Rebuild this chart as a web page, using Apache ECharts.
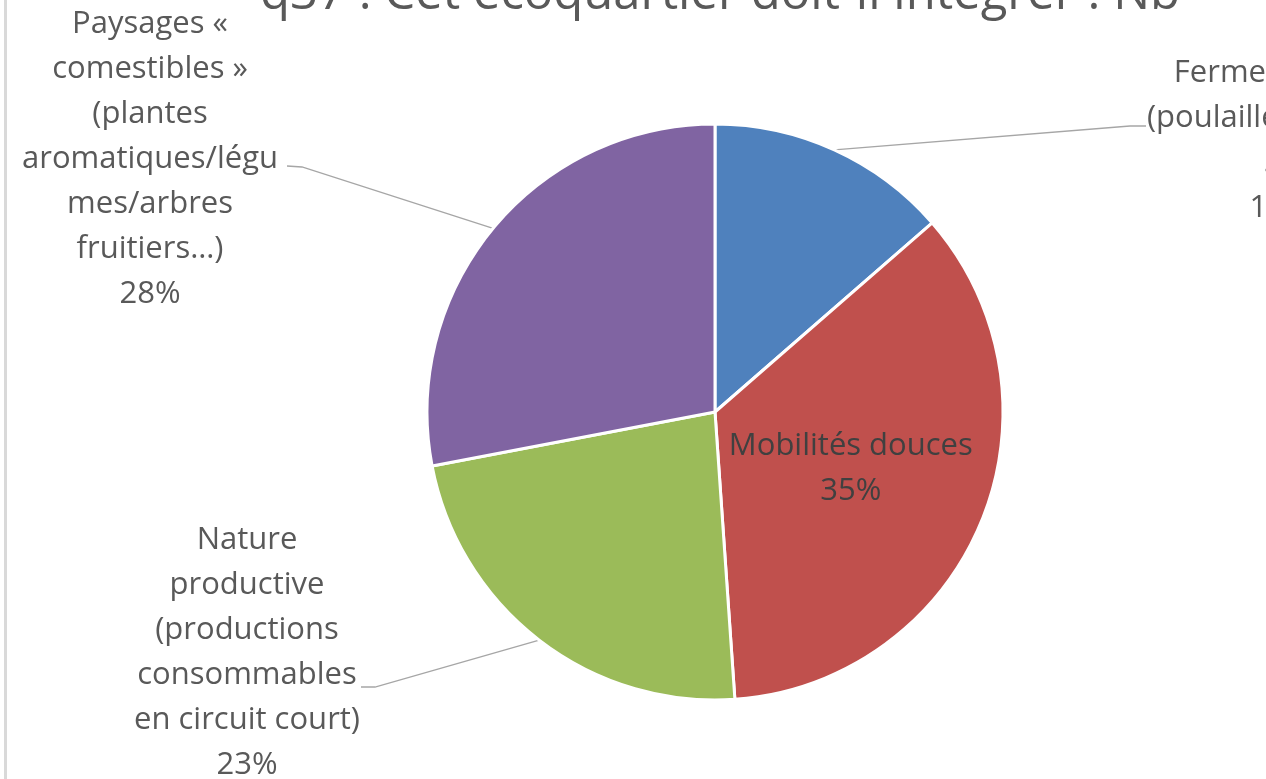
<!DOCTYPE html>
<html>
<head>
<meta charset="utf-8">
<script src="https://cdn.jsdelivr.net/npm/echarts@6/dist/echarts.min.js"></script>
<style>
html,body{margin:0;padding:0;background:#fff;}
#chart{width:1266px;height:779px;}
</style>
</head>
<body>
<div id="chart"></div>
<script>
// Data
var titleText = 'q37 : Cet écoquartier doit-il intégrer : Nb';
var categories = [
  'Ferme urbaine\n(poulailler, ruches,\n…)',
  'Mobilités douces',
  'Nature\nproductive\n(productions\nconsommables\nen circuit court)',
  'Paysages «\ncomestibles »\n(plantes\naromatiques/légu\nmes/arbres\nfruitiers…)'
];
var values = [13.6, 35.3, 23.1, 28.0];
var colors = ['#4F81BD', '#C0504D', '#9BBB59', '#8064A2'];

// Label placement (layout only)
var labelSpots = {
  0: {x: 1280, y: 141, knee: [1130, 126], end: [1146, 126]},
  2: {x: 247, y: 653, knee: [375, 687], end: [361, 687]},
  3: {x: 150, y: 159, knee: [302, 167], end: [287, 166]}
};

var FONT = '"Open Sans", "Noto Sans", sans-serif';

var chart = echarts.init(document.getElementById('chart'), null, {renderer: 'canvas'});

var total = values.reduce(function (a, b) { return a + b; }, 0);

var seriesData = categories.map(function (c, i) {
  var item = {name: c, value: values[i], itemStyle: {color: colors[i]}};
  if (i === 1) {
    item.label = {position: 'inside', color: '#404040'};
  }
  return item;
});

chart.setOption({
  animation: false,
  backgroundColor: '#ffffff',
  title: {
    text: titleText,
    left: 715,
    textAlign: 'center',
    top: -34,
    textStyle: {fontFamily: FONT, fontSize: 49, fontWeight: 'normal', color: '#595959'}
  },
  graphic: [{
    type: 'rect',
    shape: {x: 4, y: 0, width: 3, height: 779},
    style: {fill: '#d9d9d9'},
    silent: true
  }],
  series: [{
    type: 'pie',
    center: [715, 412],
    radius: 288,
    startAngle: 90,
    clockwise: true,
    avoidLabelOverlap: false,
    itemStyle: {borderColor: '#ffffff', borderWidth: 3},
    label: {
      show: true,
      position: 'outside',
      fontFamily: FONT,
      fontSize: 31,
      lineHeight: 45,
      color: '#595959',
      align: 'center',
      formatter: function (p) {
        return p.name + '\n' + Math.round(p.value / total * 100) + '%';
      }
    },
    labelLine: {show: true, lineStyle: {color: '#a6a6a6', width: 1.3}, length: 20, length2: 20},
    labelLayout: function (p) {
      var s = labelSpots[p.dataIndex];
      if (!s) return {};
      var start = (p.labelLinePoints && p.labelLinePoints[0]) || s.knee;
      return {
        x: s.x,
        y: s.y,
        align: 'center',
        verticalAlign: 'middle',
        labelLinePoints: [start, s.knee, s.end]
      };
    },
    data: seriesData
  }]
});
</script>
</body>
</html>
